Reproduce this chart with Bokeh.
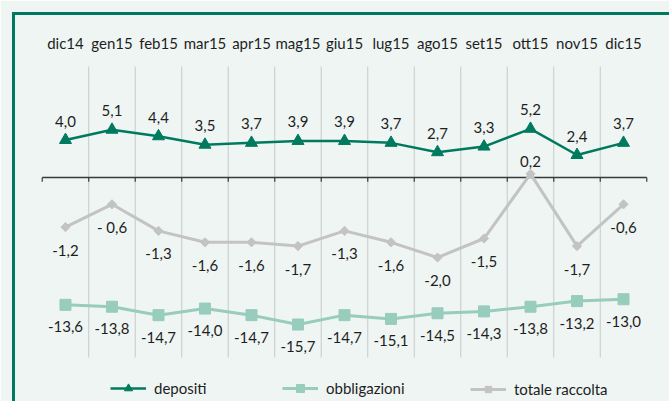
import math
from bokeh.plotting import figure
from bokeh.models import Range1d, FixedTicker, Legend, LegendItem, ColumnDataSource
from bokeh.core.properties import value
from bokeh.embed import file_html
from bokeh.resources import INLINE

categories = ["dic14", "gen15", "feb15", "mar15", "apr15", "mag15", "giu15",
              "lug15", "ago15", "set15", "ott15", "nov15", "dic15"]
depositi = [4.0, 5.1, 4.4, 3.5, 3.7, 3.9, 3.9, 3.7, 2.7, 3.3, 5.2, 2.4, 3.7]
obbligazioni = [-13.6, -13.8, -14.7, -14.0, -14.7, -15.7, -14.7, -15.1, -14.5,
                -14.3, -13.8, -13.2, -13.0]
totale_raccolta = [-1.2, -0.6, -1.3, -1.6, -1.6, -1.7, -1.3, -1.6, -2.0, -1.5,
                   0.2, -1.7, -0.6]
totale_label_overrides = {1: "- 0,6"}


def fmt(v):
    return f"{v:.1f}".replace(".", ",")


BG = "#eef5f3"
GREEN = "#007a5e"
TEAL = "#98ccbc"
GREY = "#c3c3c3"
SEP = "#c6cac9"
TXT = "#1e1e1e"
FONT = "Lato"
FS = "15px"

n = len(categories)
x = list(range(n))

p = figure(width=669, height=401, output_backend="svg", toolbar_location=None,
           x_range=Range1d(-1.118, 12.989), y_range=Range1d(-23.921, 17.514),
           x_axis_location="above", y_axis_location="left",
           min_border_left=13, min_border_top=13, min_border_right=0, min_border_bottom=0)
p.extra_y_ranges = {"tot": Range1d(-5.789, 4.421)}
p.background_fill_color = BG
p.border_fill_color = BG
p.outline_line_color = None
p.grid.visible = False

# frame border (top and left) drawn with the axes lines
for ax in (p.xaxis[0], p.yaxis[0]):
    ax.ticker = FixedTicker(ticks=[])
    ax.major_tick_out = 0
    ax.major_tick_in = 0
    ax.minor_tick_out = 0
    ax.minor_tick_in = 0
    ax.major_label_standoff = 0
    ax.major_label_text_font_size = "0px"
    ax.axis_line_color = GREEN
    ax.axis_line_width = 3
    ax.axis_line_cap = "square"

# vertical separators between categories
sep_x = [i + 0.5 for i in range(n - 1)]
p.segment(x0=sep_x, x1=sep_x, y0=11.85, y1=-19.22, line_color=SEP, line_width=1)

# zero axis with ticks at category boundaries
bx = [i - 0.5 for i in range(n + 1)]
p.line(x=[bx[0], bx[-1]], y=[0, 0], line_color="#3a3a3a", line_width=1.5)
p.segment(x0=bx, x1=bx, y0=[0] * len(bx), y1=[-0.45] * len(bx),
          line_color="#3a3a3a", line_width=1.2)

# series
dep_line = p.line(x, depositi, line_color=GREEN, line_width=2.5)
dep_mark = p.scatter(x, depositi, marker="triangle", size=12, color=GREEN)

ob_line = p.line(x, obbligazioni, line_color=TEAL, line_width=3)
ob_mark = p.scatter(x, obbligazioni, marker="square", size=11, color=TEAL)

tot_line = p.line(x, totale_raccolta, line_color=GREY, line_width=3, y_range_name="tot")
tot_mark = p.scatter(x, totale_raccolta, marker="square", angle=math.pi / 4, size=6.5,
                     color=GREY, y_range_name="tot")

# data labels
dep_src = ColumnDataSource(dict(x=x, y=depositi, t=[fmt(v) for v in depositi]))
p.text(x="x", y="y", text="t", source=dep_src, y_offset=-19, text_align="center",
       text_baseline="alphabetic", text_font=value(FONT), text_font_size=FS, text_color=TXT)

ob_src = ColumnDataSource(dict(x=x, y=obbligazioni, t=[fmt(v) for v in obbligazioni]))
p.text(x="x", y="y", text="t", source=ob_src, y_offset=22, text_align="center",
       text_baseline="alphabetic", text_font=value(FONT), text_font_size=FS, text_color=TXT)

tot_txt = [totale_label_overrides.get(i, fmt(v)) for i, v in enumerate(totale_raccolta)]
tot_off = [-12 if v > 0 else 23 for v in totale_raccolta]
tot_src = ColumnDataSource(dict(x=x, y=totale_raccolta, t=tot_txt, o=tot_off))
p.text(x="x", y="y", text="t", source=tot_src, y_offset="o", text_align="center",
       text_baseline="alphabetic", text_font=value(FONT), text_font_size=FS,
       text_color=TXT, y_range_name="tot")

# category labels along the top
cat_src = ColumnDataSource(dict(x=x, y=[14.36] * n, t=categories))
p.text(x="x", y="y", text="t", source=cat_src, text_align="center",
       text_baseline="alphabetic", text_font=value(FONT), text_font_size=FS, text_color=TXT)


def add_legend(label, renderers, xloc, gh=20):
    lg = Legend(items=[LegendItem(label=value(label), renderers=renderers)],
                location=(xloc, 3), orientation="horizontal",
                glyph_width=36, glyph_height=gh, label_standoff=8,
                padding=0, margin=0, spacing=0, border_line_color=None,
                background_fill_alpha=0, label_text_font=FONT,
                label_text_font_size=FS, label_text_color=TXT)
    p.add_layout(lg)


add_legend("depositi", [dep_line, dep_mark], 97)
add_legend("obbligazioni", [ob_line, ob_mark], 269)
add_legend("totale raccolta", [tot_line, tot_mark], 457, gh=16)

open("out.html", "w").write(file_html(p, INLINE))
